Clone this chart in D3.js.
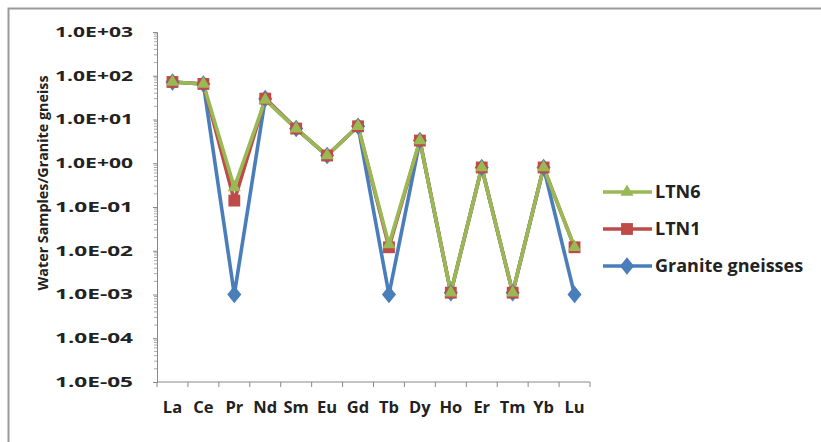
<!DOCTYPE html>
<html>
<head>
<meta charset="utf-8">
<script src="https://cdn.jsdelivr.net/npm/d3@7"></script>
<style>
  html, body { margin: 0; padding: 0; background: #fff; }
  svg { display: block; }
  text { font-family: "Open Sans", "Liberation Sans", sans-serif; font-weight: bold; fill: #222; }
</style>
</head>
<body>
<svg id="chart" width="821" height="442"></svg>
<script>
// Rare earth elements along the x axis
const elements = ["La", "Ce", "Pr", "Nd", "Sm", "Eu", "Gd", "Tb", "Dy", "Ho", "Er", "Tm", "Yb", "Lu"];

// Normalised concentrations (water samples / granite gneiss)
const granite = [72, 65, 0.001, 30, 6.2, 1.5, 7.0, 0.001, 3.3, 0.0011, 0.8, 0.0011, 0.8, 0.001];
const ltn1    = [72, 65, 0.14, 30, 6.2, 1.5, 7.0, 0.012, 3.3, 0.0011, 0.8, 0.0011, 0.8, 0.012];
const ltn6    = [72, 65, 0.28, 28, 6.2, 1.5, 7.0, 0.014, 3.3, 0.0011, 0.8, 0.0011, 0.8, 0.012];

// Axis tick labels (powers of ten)
const yTickValues = [1e-5, 1e-4, 1e-3, 1e-2, 1e-1, 1, 10, 100, 1000];
const yTickLabels = ["1.0E-05", "1.0E-04", "1.0E-03", "1.0E-02", "1.0E-01", "1.0E+00", "1.0E+01", "1.0E+02", "1.0E+03"];

const seriesNames = ["LTN6", "LTN1", "Granite gneisses"];
const colors = { "Granite gneisses": "#4a7ebb", "LTN1": "#be4b48", "LTN6": "#98b954" };

const svg = d3.select("#chart");

// Chart area frame
svg.append("rect")
  .attr("x", 8.5).attr("y", 8.5)
  .attr("width", 830).attr("height", 450)
  .attr("fill", "#fff").attr("stroke", "#9a9a9a").attr("stroke-width", 2);

const plot = { left: 157, right: 590, top: 32, bottom: 382 };

const x = d3.scaleBand().domain(elements).range([plot.left, plot.right]);
const y = d3.scaleLog().domain([1e-5, 1e3]).range([plot.bottom, plot.top]);

// Y axis with minor log ticks
const yAxis = d3.axisLeft(y)
  .tickValues(yTickValues)
  .tickFormat((d, i) => yTickLabels[i])
  .tickSize(4).tickPadding(20);
const gy = svg.append("g").attr("transform", `translate(${plot.left},0)`).call(yAxis);
gy.select(".domain").attr("stroke", "#888");
gy.selectAll(".tick line").attr("stroke", "#888");
gy.selectAll(".tick text")
  .style("font-size", "14px").attr("fill", "#222")
  .attr("textLength", 78).attr("lengthAdjust", "spacingAndGlyphs");

const minor = [];
for (let e = -5; e < 3; e++) for (let m = 2; m <= 9; m++) minor.push(m * Math.pow(10, e));
gy.selectAll(".minor").data(minor).enter().append("line")
  .attr("class", "minor")
  .attr("x1", -3).attr("x2", 0)
  .attr("y1", d => y(d)).attr("y2", d => y(d))
  .attr("stroke", "#aaa");

// X axis: ticks between categories
const gx = svg.append("g").attr("transform", `translate(0,${plot.bottom})`);
gx.append("line").attr("x1", plot.left).attr("x2", plot.right).attr("stroke", "#888");
const bounds = elements.map(e => x(e)).concat([plot.right]);
gx.selectAll(".xt").data(bounds).enter().append("line")
  .attr("x1", d => d).attr("x2", d => d).attr("y1", 0).attr("y2", 5).attr("stroke", "#888");
gx.selectAll(".xl").data(elements).enter().append("text")
  .attr("x", d => x(d) + x.bandwidth() / 2).attr("y", 31)
  .attr("text-anchor", "middle").style("font-size", "16.5px")
  .text(d => d);

// Y axis title
svg.append("text")
  .attr("transform", `translate(48,183) rotate(-90)`)
  .attr("text-anchor", "middle").style("font-size", "15px")
  .attr("textLength", 215).attr("lengthAdjust", "spacingAndGlyphs")
  .text("Water Samples/Granite gneiss");

const line = d3.line()
  .x((d, i) => x(elements[i]) + x.bandwidth() / 2)
  .y(d => y(d));

const data = [
  { name: "Granite gneisses", values: granite, symbol: d3.symbolDiamond, size: 110 },
  { name: "LTN1", values: ltn1, symbol: d3.symbolSquare, size: 140 },
  { name: "LTN6", values: ltn6, symbol: d3.symbolTriangle, size: 75 }
];

data.forEach(s => {
  svg.append("path").datum(s.values)
    .attr("d", line).attr("fill", "none")
    .attr("stroke", colors[s.name]).attr("stroke-width", 3.6)
    .attr("stroke-linejoin", "round");
});
data.forEach(s => {
  svg.selectAll(null).data(s.values).enter().append("path")
    .attr("d", d3.symbol().type(s.symbol).size(s.size))
    .attr("transform", (d, i) => `translate(${x(elements[i]) + x.bandwidth() / 2},${y(d)})${s.symbol === d3.symbolDiamond ? " scale(1.25,0.9)" : ""}`)
    .attr("fill", colors[s.name]);
});

// Legend
const legendY = { "LTN6": 192, "LTN1": 229, "Granite gneisses": 266 };
const sym = { "LTN6": d3.symbolTriangle, "LTN1": d3.symbolSquare, "Granite gneisses": d3.symbolDiamond };
const symSize = { "LTN6": 75, "LTN1": 140, "Granite gneisses": 110 };
seriesNames.forEach(n => {
  const ly = legendY[n];
  svg.append("line").attr("x1", 603).attr("x2", 652).attr("y1", ly).attr("y2", ly)
    .attr("stroke", colors[n]).attr("stroke-width", 3.6);
  svg.append("path").attr("d", d3.symbol().type(sym[n]).size(symSize[n])())
    .attr("transform", `translate(627,${ly})${n === "Granite gneisses" ? " scale(1.25,0.9)" : ""}`)
    .attr("fill", colors[n]);
  svg.append("text").attr("x", 655).attr("y", ly + 6)
    .style("font-size", "18px").text(n);
});
</script>
</body>
</html>
